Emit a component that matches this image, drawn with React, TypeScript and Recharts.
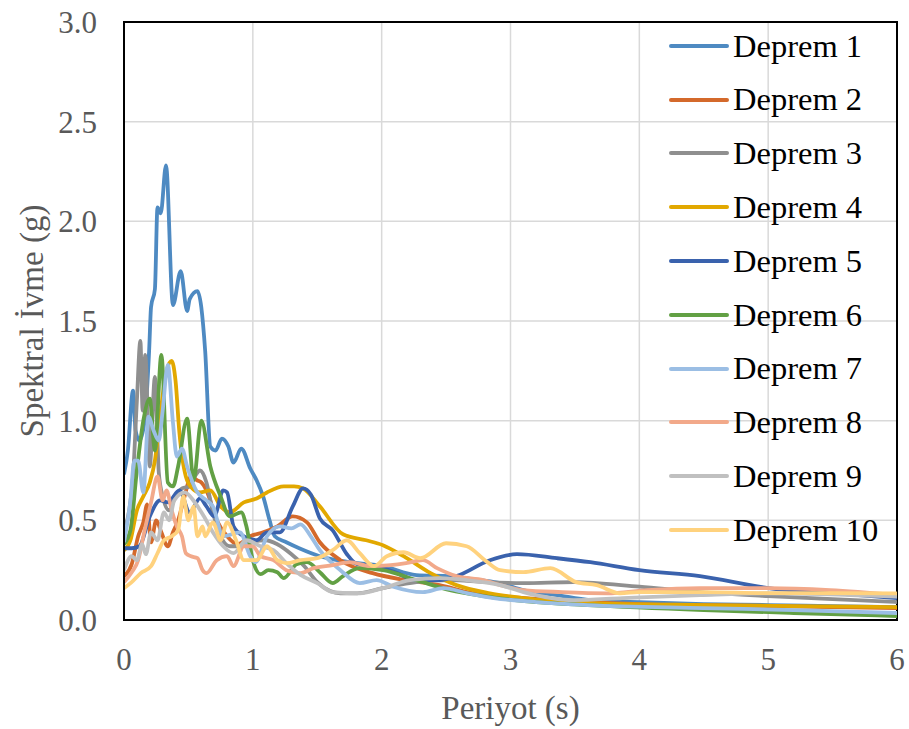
import React from 'react';
import { LineChart, Line, XAxis, YAxis, CartesianGrid, ReferenceArea } from 'recharts';

const names = ['Deprem 1', 'Deprem 2', 'Deprem 3', 'Deprem 4', 'Deprem 5', 'Deprem 6', 'Deprem 7', 'Deprem 8', 'Deprem 9', 'Deprem 10'];
const colors = ['#4E8AC2', '#D4692B', '#8F8F8F', '#E2A800', '#3A62AD', '#62A044', '#9BBEE4', '#F2A98A', '#C0C0C0', '#FFD27E'];
const xTicks = [0, 1, 2, 3, 4, 5, 6];
const yTicks = [0, 0.5, 1, 1.5, 2, 2.5, 3];

const d1: number[][] = [[0,0.73],[0.03,0.85],[0.07,1.15],[0.09,0.95],[0.12,0.9],[0.16,1.0],[0.195,1.35],[0.21,1.57],[0.24,1.66],[0.26,2.07],[0.285,2.04],[0.326,2.28],[0.38,1.58],[0.44,1.75],[0.49,1.55],[0.51,1.61],[0.57,1.65],[0.63,1.35],[0.67,0.87],[0.71,0.85],[0.76,0.91],[0.81,0.87],[0.85,0.79],[0.91,0.86],[0.98,0.76],[1.03,0.70],[1.08,0.62],[1.13,0.5],[1.17,0.42],[1.26,0.39],[1.36,0.36],[1.52,0.32],[1.75,0.29],[2.01,0.27],[2.27,0.225],[2.53,0.22],[2.76,0.2],[2.92,0.185],[3.1,0.15],[3.36,0.125],[3.62,0.1],[4.0,0.09],[4.5,0.08],[5,0.075],[5.5,0.07],[6,0.065]];
const d2: number[][] = [[0,0.22],[0.06,0.28],[0.11,0.42],[0.15,0.49],[0.18,0.58],[0.21,0.39],[0.25,0.5],[0.29,0.44],[0.34,0.37],[0.38,0.44],[0.42,0.5],[0.47,0.62],[0.52,0.72],[0.57,0.70],[0.6,0.69],[0.64,0.65],[0.72,0.5],[0.8,0.42],[0.88,0.38],[0.98,0.42],[1.08,0.44],[1.19,0.47],[1.31,0.52],[1.42,0.49],[1.52,0.39],[1.68,0.30],[1.93,0.235],[2.19,0.2],[2.45,0.175],[2.71,0.134],[2.97,0.117],[3.5,0.095],[4,0.08],[4.5,0.075],[5,0.07],[5.5,0.065],[6,0.06]];
const d3: number[][] = [[0,0.45],[0.04,0.55],[0.07,0.72],[0.1,1.1],[0.127,1.40],[0.145,1.05],[0.165,1.33],[0.2,0.77],[0.24,1.22],[0.27,0.74],[0.3,0.62],[0.35,0.55],[0.4,0.62],[0.45,0.66],[0.51,0.67],[0.55,0.72],[0.59,0.75],[0.64,0.69],[0.69,0.54],[0.75,0.42],[0.82,0.37],[0.9,0.37],[0.98,0.39],[1.1,0.4],[1.19,0.38],[1.3,0.33],[1.4,0.27],[1.5,0.19],[1.6,0.145],[1.68,0.134],[1.81,0.134],[2.01,0.16],[2.27,0.19],[2.53,0.2],[2.8,0.19],[3.1,0.185],[3.49,0.19],[4.0,0.167],[4.47,0.14],[5,0.12],[5.5,0.105],[6,0.09]];
const d4: number[][] = [[0,0.35],[0.05,0.4],[0.1,0.55],[0.15,0.62],[0.2,0.69],[0.24,0.8],[0.28,1.02],[0.33,1.25],[0.37,1.30],[0.40,1.2],[0.43,0.94],[0.48,0.72],[0.53,0.66],[0.59,0.64],[0.67,0.65],[0.75,0.57],[0.82,0.54],[0.93,0.59],[1.03,0.61],[1.11,0.64],[1.24,0.67],[1.32,0.67],[1.39,0.66],[1.52,0.57],[1.7,0.43],[1.88,0.40],[2.01,0.375],[2.17,0.32],[2.38,0.235],[2.58,0.175],[2.84,0.134],[3.1,0.11],[3.62,0.085],[4.5,0.075],[5.2,0.07],[6,0.065]];
const d5: number[][] = [[0,0.36],[0.06,0.36],[0.12,0.37],[0.2,0.52],[0.28,0.60],[0.34,0.59],[0.43,0.65],[0.51,0.54],[0.59,0.61],[0.64,0.57],[0.7,0.52],[0.77,0.65],[0.8,0.64],[0.85,0.47],[0.93,0.42],[1.03,0.40],[1.11,0.44],[1.21,0.44],[1.31,0.57],[1.39,0.66],[1.45,0.63],[1.52,0.51],[1.62,0.45],[1.73,0.33],[1.81,0.28],[1.96,0.27],[2.1,0.24],[2.27,0.2],[2.45,0.2],[2.58,0.22],[2.84,0.3],[3.05,0.33],[3.36,0.31],[3.62,0.29],[4.0,0.25],[4.47,0.22],[5.0,0.16],[5.5,0.135],[6,0.11]];
const d6: number[][] = [[0,0.38],[0.05,0.45],[0.1,0.75],[0.15,1.0],[0.2,1.11],[0.24,0.85],[0.29,1.33],[0.34,0.69],[0.38,0.67],[0.42,0.77],[0.49,1.01],[0.54,0.70],[0.60,1.0],[0.67,0.77],[0.75,0.62],[0.82,0.52],[0.91,0.54],[0.95,0.47],[1.0,0.30],[1.06,0.23],[1.12,0.25],[1.19,0.24],[1.24,0.21],[1.34,0.28],[1.42,0.29],[1.52,0.24],[1.62,0.185],[1.70,0.22],[1.83,0.26],[2.01,0.25],[2.27,0.2],[2.53,0.15],[2.79,0.12],[3.2,0.09],[3.6,0.075],[4.5,0.05],[5.2,0.035],[6,0.02]];
const d7: number[][] = [[0,0.39],[0.05,0.6],[0.08,0.8],[0.11,0.8],[0.15,0.64],[0.19,1.02],[0.23,0.95],[0.27,0.90],[0.3,1.05],[0.34,1.28],[0.38,0.99],[0.41,0.82],[0.45,0.86],[0.49,0.77],[0.56,0.65],[0.64,0.60],[0.69,0.57],[0.77,0.42],[0.9,0.44],[0.98,0.32],[1.02,0.29],[1.11,0.42],[1.21,0.47],[1.3,0.46],[1.37,0.48],[1.45,0.42],[1.52,0.35],[1.68,0.25],[1.83,0.185],[1.96,0.2],[2.09,0.167],[2.32,0.14],[2.48,0.16],[2.66,0.135],[2.87,0.11],[3.2,0.09],[3.6,0.075],[4.5,0.06],[5.2,0.05],[6,0.035]];
const d8: number[][] = [[0,0.19],[0.06,0.24],[0.11,0.30],[0.16,0.45],[0.21,0.59],[0.26,0.72],[0.3,0.60],[0.33,0.65],[0.37,0.55],[0.41,0.47],[0.45,0.42],[0.48,0.335],[0.52,0.32],[0.57,0.31],[0.61,0.25],[0.64,0.235],[0.72,0.30],[0.80,0.32],[0.85,0.27],[0.93,0.37],[1.0,0.37],[1.06,0.32],[1.16,0.30],[1.26,0.25],[1.37,0.235],[1.47,0.26],[1.62,0.275],[1.75,0.29],[1.91,0.27],[2.07,0.275],[2.19,0.285],[2.32,0.30],[2.43,0.26],[2.58,0.22],[2.79,0.2],[2.92,0.175],[3.1,0.15],[3.4,0.14],[3.75,0.134],[4.06,0.15],[4.47,0.16],[5.0,0.16],[5.48,0.15],[6,0.125]];
const d9: number[][] = [[0,0.25],[0.06,0.32],[0.1,0.3],[0.14,0.38],[0.17,0.33],[0.21,0.44],[0.26,0.4],[0.31,0.54],[0.35,0.5],[0.39,0.60],[0.47,0.64],[0.55,0.59],[0.62,0.52],[0.69,0.44],[0.77,0.37],[0.85,0.335],[0.95,0.40],[1.06,0.37],[1.16,0.35],[1.26,0.285],[1.37,0.226],[1.5,0.185],[1.62,0.14],[1.83,0.134],[2.01,0.16],[2.22,0.2],[2.45,0.21],[2.66,0.2],[2.92,0.175],[3.1,0.14],[3.49,0.10],[3.87,0.11],[4.47,0.125],[5.0,0.134],[6,0.117]];
const d10: number[][] = [[0,0.16],[0.06,0.19],[0.13,0.235],[0.21,0.27],[0.26,0.335],[0.31,0.40],[0.37,0.42],[0.42,0.45],[0.46,0.62],[0.5,0.50],[0.54,0.57],[0.57,0.42],[0.61,0.47],[0.63,0.42],[0.69,0.49],[0.75,0.40],[0.8,0.49],[0.87,0.40],[0.93,0.30],[1.03,0.30],[1.11,0.37],[1.19,0.30],[1.26,0.285],[1.37,0.30],[1.5,0.31],[1.62,0.35],[1.73,0.40],[1.83,0.335],[1.94,0.27],[2.04,0.32],[2.17,0.34],[2.3,0.31],[2.5,0.385],[2.66,0.37],[2.82,0.29],[2.92,0.25],[3.1,0.24],[3.31,0.26],[3.51,0.19],[3.67,0.175],[3.85,0.134],[4.0,0.14],[4.5,0.14],[5,0.135],[5.5,0.135],[6,0.134]];

const raw = [d1, d2, d3, d4, d5, d6, d7, d8, d9, d10];
const series = raw.map((arr) => arr.map(([x, y]) => ({ x, y })));

const FONT = '"Liberation Serif", "Times New Roman", serif';

const LegendBox = () => (
  <div style={{ position: 'absolute', left: 669, top: 19, fontFamily: FONT, fontSize: 32.5, color: '#000', pointerEvents: 'none' }}>
    {names.map((n, i) => (
      <div key={n} style={{ height: 53.8, display: 'flex', alignItems: 'center', whiteSpace: 'nowrap' }}>
        <svg width={62} height={10} style={{ marginRight: 2 }}>
          <line x1={2} y1={5} x2={58} y2={5} stroke={colors[i]} strokeWidth={4} strokeLinecap="round" />
        </svg>
        <span style={{ lineHeight: 1 }}>{n}</span>
      </div>
    ))}
  </div>
);

const YTitle = (props: any) => {
  const vb = props.viewBox || {};
  const cx = vb.x - 12;
  const cy = vb.y + vb.height / 2;
  return (
    <text x={cx} y={cy} transform={`rotate(-90, ${cx}, ${cy})`} textAnchor="middle" dominantBaseline="central" fill="#595959" fontSize={33} fontFamily={FONT}>
      Spektral İvme (g)
    </text>
  );
};

const XTitle = (props: any) => {
  const vb = props.viewBox || {};
  const cx = vb.x + vb.width / 2;
  const cy = vb.y + 88;
  return (
    <text x={cx} y={cy} textAnchor="middle" dominantBaseline="central" fill="#595959" fontSize={33} fontFamily={FONT}>
      Periyot (s)
    </text>
  );
};

export default function App() {
  return (
    <div style={{ position: 'absolute', left: 0, top: 0, width: 909, height: 729, background: '#fff' }}>
      <LineChart width={909} height={729} margin={{ top: 22, right: 12, bottom: 49, left: 44 }}>
        <CartesianGrid stroke="#d9d9d9" strokeWidth={1.5} />
        <XAxis
          type="number"
          dataKey="x"
          domain={[0, 6]}
          ticks={xTicks}
          height={60}
          tickLine={false}
          tickMargin={22}
          axisLine={{ stroke: '#000', strokeWidth: 2 }}
          tick={{ fill: '#595959', fontSize: 31, fontFamily: FONT }}
          allowDataOverflow
          label={{ content: XTitle }}
        />
        <YAxis
          type="number"
          domain={[0, 3]}
          ticks={yTicks}
          width={80}
          tickLine={false}
          tickMargin={21}
          tickFormatter={(v: number) => v.toFixed(1)}
          axisLine={{ stroke: '#000', strokeWidth: 2 }}
          tick={{ fill: '#595959', fontSize: 31, fontFamily: FONT }}
          allowDataOverflow
          label={{ content: YTitle }}
        />
        {series.map((s, i) => (
          <Line
            key={names[i]}
            data={s}
            dataKey="y"
            name={names[i]}
            type="monotone"
            stroke={colors[i]}
            strokeWidth={3.8}
            dot={false}
            activeDot={false}
            isAnimationActive={false}
          />
        ))}
        <ReferenceArea x1={0} x2={6} y1={0} y2={3} fill="none" stroke="#000" strokeWidth={2} ifOverflow="visible" />
      </LineChart>
      <LegendBox />
    </div>
  );
}
